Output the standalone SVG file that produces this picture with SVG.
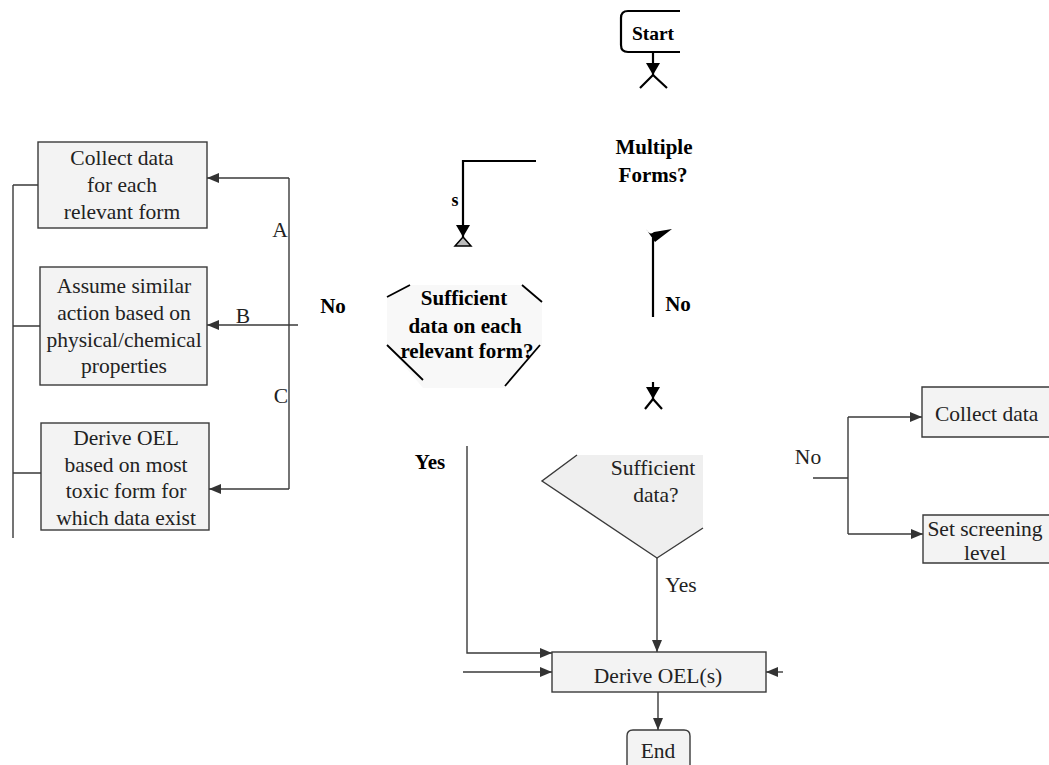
<svg xmlns="http://www.w3.org/2000/svg" width="1049" height="765" viewBox="0 0 1049 765">
<defs>
<style>
.bx{fill:#f3f3f3;stroke:#3a3a3a;stroke-width:1.4}
.ln{fill:none;stroke:#3a3a3a;stroke-width:1.4}
.bl{fill:none;stroke:#000;stroke-width:2.2}
text{font-family:'Liberation Serif',serif}
.t{font-size:21.5px;fill:#222;text-anchor:middle}
.b{font-size:21px;font-weight:bold;fill:#000;text-anchor:middle}
</style>
<marker id="ar" markerUnits="userSpaceOnUse" markerWidth="12" markerHeight="10" refX="12" refY="5" orient="auto"><path d="M0,0 L12,5 L0,10 z" fill="#333"/></marker>
<marker id="arb" markerUnits="userSpaceOnUse" markerWidth="12" markerHeight="14" refX="12" refY="7" orient="auto"><path d="M0,0 L12,7 L0,14 z" fill="#000"/></marker>
</defs>
<rect width="1049" height="765" fill="#fff"/>

<g id="connectors">
<path class="bl" d="M653,52 V75" marker-end="url(#arb)"/>
<path class="bl" d="M640,88 L653,75 L667,88"/>
<path class="bl" d="M536,161 H463 V237" marker-end="url(#arb)"/>
<path d="M463,237 L455,246 H471 Z" fill="#bbb" stroke="#000" stroke-width="1.5"/>
<path d="M646,229 Q650,236 654,232 L672,229 L655,242 Z" fill="#000"/>
<path class="bl" d="M653,238 V317"/>
<path class="bl" d="M653,382 V399" marker-end="url(#arb)"/>
<path class="bl" d="M645,409 L653,399 L662,409"/>
<path class="ln" d="M289,178 V489"/>
<path class="ln" d="M289,178 H207" marker-end="url(#ar)"/>
<path class="ln" d="M298,325 H207" marker-end="url(#ar)"/>
<path class="ln" d="M289,489 H209" marker-end="url(#ar)"/>
<path class="ln" d="M13,185 V538 M13,185 H38 M13,326 H40 M13,473 H41"/>
<path class="ln" d="M467,446 V653 H552" marker-end="url(#ar)"/>
<path class="ln" d="M463,672 H552" marker-end="url(#ar)"/>
<path class="ln" d="M783,672 H766" marker-end="url(#ar)"/>
<path class="ln" d="M657,558 V652" marker-end="url(#ar)"/>
<path class="ln" d="M813,478 H848 M848,417 V534"/>
<path class="ln" d="M848,417 H922" marker-end="url(#ar)"/>
<path class="ln" d="M848,534 H923" marker-end="url(#ar)"/>
<path class="ln" d="M658,692 V730" marker-end="url(#ar)"/>
</g>

<g id="start">
<path class="bl" d="M680,11 H628 Q621,11 621,18 V45 Q621,52 628,52 H680" fill="#fafafa"/>
<text class="b" x="653" y="40" style="font-size:19.5px">Start</text>
</g>

<g id="multiple-forms">
<text class="b" x="654" y="154">Multiple</text>
<text class="b" x="653" y="182">Forms?</text>
</g>

<g id="labels">
<text class="b" x="455" y="206" style="font-size:18px">s</text>
<text class="b" x="678" y="311">No</text>
<text class="b" x="333" y="313">No</text>
<text class="b" x="430" y="469">Yes</text>
<text class="t" x="280" y="237">A</text>
<text class="t" x="243" y="323">B</text>
<text class="t" x="281" y="403">C</text>
<text class="t" x="681" y="592">Yes</text>
<text class="t" x="808" y="464">No</text>
</g>

<g id="sufficient-each">
<polygon points="410,285 522,285 542,302 542,345 505,388 423,388 387,345 387,297" fill="#f8f8f8"/>
<path class="bl" d="M387,297 L410,285 M522,285 L542,302 M387,345 L423,380 M540,345 L505,386" style="stroke-width:1.8"/>
<text class="b" x="464" y="305">Sufficient</text>
<text class="b" x="465" y="333">data on each</text>
<text class="b" x="467" y="358">relevant form?</text>
</g>

<g id="box-collect-each">
<rect class="bx" x="38" y="142" width="169" height="86"/>
<text class="t" x="122" y="165">Collect data</text>
<text class="t" x="122" y="192">for each</text>
<text class="t" x="122" y="219">relevant form</text>
</g>

<g id="box-assume">
<rect class="bx" x="40" y="267" width="167" height="118"/>
<text class="t" x="124" y="293">Assume similar</text>
<text class="t" x="124" y="320">action based on</text>
<text class="t" x="124" y="347">physical/chemical</text>
<text class="t" x="124" y="373">properties</text>
</g>

<g id="box-derive-toxic">
<rect class="bx" x="41" y="423" width="168" height="107"/>
<text class="t" x="126" y="445">Derive OEL</text>
<text class="t" x="126" y="472">based on most</text>
<text class="t" x="126" y="498">toxic form for</text>
<text class="t" x="126" y="525">which data exist</text>
</g>

<g id="sufficient-data">
<polygon points="577,455 703,455 703,528 657,558 542,481" fill="#efefef"/>
<path class="ln" d="M577,455 L542,481 L657,558 L703,528"/>
<text class="t" x="653" y="475">Sufficient</text>
<text class="t" x="656" y="502">data?</text>
</g>

<g id="box-collect-data">
<path class="bx" d="M1049,387 H922 V437 H1049"/>
<text class="t" x="935" y="421" style="text-anchor:start">Collect data</text>
</g>

<g id="box-screening">
<path class="bx" d="M1049,515 H923 V563 H1049"/>
<text class="t" x="985" y="536">Set screening</text>
<text class="t" x="985" y="560">level</text>
</g>

<g id="box-derive-oels">
<rect class="bx" x="552" y="652" width="214" height="40"/>
<text class="t" x="658" y="683">Derive OEL(s)</text>
</g>

<g id="end">
<path class="bx" d="M627,766 V736 Q627,730 633,730 H684 Q690,730 690,736 V766"/>
<text class="t" x="658" y="758">End</text>
</g>
</svg>
